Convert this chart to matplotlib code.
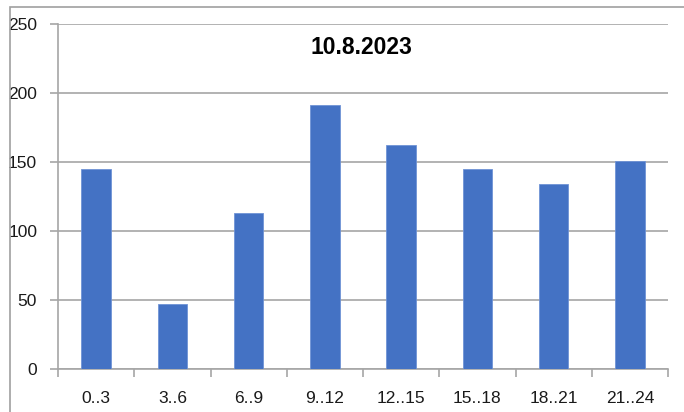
import numpy as np
import matplotlib.pyplot as plt
from matplotlib.patches import Rectangle

categories = ["0..3", "3..6", "6..9", "9..12", "12..15", "15..18", "18..21", "21..24"]
values = [145, 47, 113, 191, 162, 145, 134, 151]
yticks = [0, 50, 100, 150, 200, 250]
title = "10.8.2023"

plt.rcParams["font.family"] = ["Liberation Sans", "DejaVu Sans"]
grey = "#a6a6a6"
text_col = "#1a1a1a"

fig = plt.figure(figsize=(6.84, 4.12), dpi=100)
ax = fig.add_axes([58 / 684, 1 - 368.7 / 412, (668 - 58) / 684, (368.7 - 24) / 412])

# outer chart border
fig.patches.append(Rectangle((10 / 684, -0.1), 1.2, 1 - 6.5 / 412 + 0.1,
                             transform=fig.transFigure, fill=False,
                             edgecolor="#a0a0a0", lw=1.2))

x = np.arange(len(categories))
ax.bar(x, values, width=0.39, color="#4472C4", edgecolor="#6f93d6", lw=0.6, zorder=3)

ax.set_xlim(-0.5, len(categories) - 0.5)
ax.set_ylim(0, 250)
ax.set_yticks(yticks)
ax.set_yticklabels([str(v) for v in yticks], fontsize=12.5, color=text_col)
ax.set_xticks(np.arange(len(categories) + 1) - 0.5)
ax.set_xticklabels([])
ax.set_xticks(x, minor=True)
ax.set_xticklabels(categories, minor=True, fontsize=12.5, color=text_col)
ax.tick_params(axis="x", which="minor", length=0, pad=16)
ax.tick_params(axis="x", which="major", length=6, color=grey, width=1.2)
ax.tick_params(axis="y", length=6, color=grey, width=1.2, pad=9)

ax.grid(axis="y", color=grey, lw=1.2, zorder=0)
for s in ["top", "right"]:
    ax.spines[s].set_visible(False)
for s in ["left", "bottom"]:
    ax.spines[s].set_color(grey)
    ax.spines[s].set_linewidth(1.2)

ax.text(0.498, 0.933, title, transform=ax.transAxes, ha="center", va="center",
        fontsize=16.5, fontweight="bold", color="black")

fig.savefig("out.png", dpi=100)
